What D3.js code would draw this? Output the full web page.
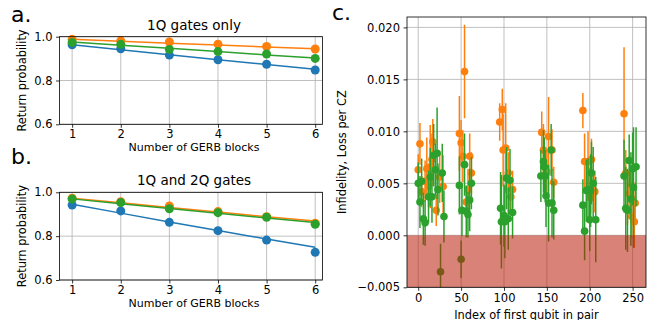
<!DOCTYPE html>
<html>
<head>
<meta charset="utf-8">
<script src="https://cdn.jsdelivr.net/npm/d3@7"></script>
<style>
  body { margin: 0; background: #fff; }
  svg { display: block; }
  text { font-family: "DejaVu Sans", sans-serif; fill: #000; }
  .tick text { font-size: 11.5px; }
  .tick line { stroke: #000; stroke-width: 0.8; }
</style>
</head>
<body>
<svg id="fig" width="654" height="320"></svg>
<script>
// GERB block counts (panels a and b)
const blocks = [1, 2, 3, 4, 5, 6];

// Panel a: 1Q gates only — measured return probabilities and fitted decay
const aBlue   = [0.963, 0.945, 0.916, 0.895, 0.874, 0.848];
const aOrange = [0.988, 0.981, 0.976, 0.966, 0.955, 0.944];
const aGreen  = [0.974, 0.965, 0.942, 0.932, 0.921, 0.901];
const aBlueFit   = [0.963, 0.940, 0.918, 0.895, 0.873, 0.851];
const aOrangeFit = [0.988, 0.979, 0.970, 0.962, 0.953, 0.945];
const aGreenFit  = [0.976, 0.961, 0.947, 0.932, 0.917, 0.903];

// Panel b: 1Q and 2Q gates
const bBlue   = [0.942, 0.915, 0.863, 0.825, 0.782, 0.726];
const bOrange = [0.973, 0.957, 0.938, 0.912, 0.889, 0.859];
const bGreen  = [0.970, 0.953, 0.925, 0.907, 0.886, 0.854];
const bBlueFit   = [0.945, 0.905, 0.865, 0.826, 0.787, 0.749];
const bOrangeFit = [0.973, 0.952, 0.931, 0.910, 0.889, 0.869];
const bGreenFit  = [0.970, 0.948, 0.926, 0.904, 0.883, 0.862];

const probTicks = [0.6, 0.8, 1.0];

// Panel c: per-pair infidelity (orange) and loss (green) per CZ, with uncertainties
const cOrangeX   = [0, 2, 4, 8, 10, 12, 14, 16, 17, 21, 25, 29,
                    48, 50, 52, 54, 56, 58, 60, 62,
                    95, 98, 99, 102, 105, 108, 110,
                    144, 146, 148, 150, 152, 156, 158,
                    192, 194, 198, 200, 201, 202, 206,
                    240, 242, 244, 246, 248, 249, 252, 253];
const cOrangeY   = [0.0063, 0.0088, 0.0042, 0.0052, 0.0064, 0.0047, 0.0066, 0.0073, 0.0090, 0.0024, 0.0056, 0.0047,
                    0.0098, 0.0089, 0.0076, 0.01575, 0.0032, 0.0044, 0.0076, 0.0060,
                    0.0109, 0.0121, 0.0082, 0.0084, 0.0060, 0.0037, 0.0044,
                    0.0099, 0.0082, 0.0058, 0.0061, 0.0095, 0.0082, 0.0051,
                    0.0120, 0.0071, 0.0071, 0.0040, 0.0036, 0.0073, 0.0042,
                    0.0117, 0.0060, 0.0025, 0.0040, 0.0047, 0.0018, 0.0013, 0.0031];
const cOrangeErr = [0.0015, 0.0020, 0.0015, 0.0020, 0.0030, 0.0020, 0.0040, 0.0025, 0.0022, 0.0015, 0.0025, 0.0030,
                    0.0036, 0.0022, 0.0025, 0.0045, 0.0015, 0.0020, 0.0022, 0.0020,
                    0.0018, 0.0020, 0.0035, 0.0043, 0.0020, 0.0015, 0.0018,
                    0.0020, 0.0025, 0.0020, 0.0020, 0.0038, 0.0020, 0.0015,
                    0.0017, 0.0027, 0.0029, 0.0025, 0.0015, 0.0020, 0.0020,
                    0.0064, 0.0022, 0.0015, 0.0020, 0.0020, 0.0020, 0.0025, 0.0020];

const cGreenX   = [0, 2, 4, 6, 8, 12, 14, 16, 18, 20, 22, 23, 26, 28, 30,
                   48, 50, 51, 54, 56, 58, 60, 62,
                   96, 97, 100, 101, 103, 105, 107, 110,
                   143, 146, 147, 148, 149, 152, 155, 156, 158,
                   192, 194, 196, 198, 200, 201, 202, 204, 207,
                   240, 242, 244, 246, 248, 250, 251, 254];
const cGreenY   = [0.0050, 0.0032, 0.0052, 0.0016, 0.0012, 0.0037, 0.0056, 0.0037, 0.0077, 0.0063, 0.0079, 0.0044, -0.0035, 0.0060, 0.0018,
                   0.0048, -0.0023, 0.0024, 0.0068, 0.0023, 0.0020, 0.0034, 0.0050,
                   0.0026, 0.0013, 0.0019, 0.0013, 0.0055, 0.0016, 0.0053, 0.0022,
                   0.0057, 0.0071, 0.0066, 0.0057, 0.0038, 0.0031, 0.0082, 0.0031, 0.0024,
                   0.0029, 0.0004, 0.0043, 0.0044, 0.0015, 0.0043, 0.0060, 0.0050, 0.0015,
                   0.0057, 0.0026, 0.0024, 0.0072, 0.0035, 0.0064, 0.0046, 0.0066];
const cGreenErr = [0.0020, 0.0025, 0.0022, 0.0025, 0.0022, 0.0025, 0.0028, 0.0025, 0.0030, 0.0025, 0.0044, 0.0025, 0.0027, 0.0028, 0.0025,
                   0.0028, 0.0018, 0.0025, 0.0030, 0.0025, 0.0022, 0.0030, 0.0025,
                   0.0035, 0.0045, 0.0030, 0.0035, 0.0030, 0.0030, 0.0030, 0.0025,
                   0.0025, 0.0030, 0.0028, 0.0025, 0.0030, 0.0037, 0.0025, 0.0033, 0.0028,
                   0.0025, 0.0028, 0.0030, 0.0030, 0.0030, 0.0035, 0.0030, 0.0035, 0.0041,
                   0.0035, 0.0040, 0.0040, 0.0025, 0.0045, 0.0035, 0.0058, 0.0038];

const cXTicks = [0, 50, 100, 150, 200, 250];
const cYTicks = [-0.005, 0.000, 0.005, 0.010, 0.015, 0.020];

const C0 = "#1f77b4", C1 = "#ff7f0e", C2 = "#2ca02c";
const GRID = "#b0b0b0";

const svg = d3.select("#fig");

// ---------- panels a and b ----------
function probPanel(box, title, label, series) {
  const x = d3.scaleLinear().domain([0.74, 6.15]).range([box.l, box.r]);
  const y = d3.scaleLinear().domain([0.6, 1.0]).range([box.b, box.t]);
  const g = svg.append("g");

  // grid
  g.selectAll(".vg").data(blocks).join("line")
    .attr("x1", d => x(d)).attr("x2", d => x(d))
    .attr("y1", box.t).attr("y2", box.b)
    .attr("stroke", GRID).attr("stroke-width", 0.8);
  g.selectAll(".hg").data(probTicks).join("line")
    .attr("x1", box.l).attr("x2", box.r)
    .attr("y1", d => y(d)).attr("y2", d => y(d))
    .attr("stroke", GRID).attr("stroke-width", 0.8);

  // fits and measured points
  series.forEach(s => {
    const line = d3.line().x((d, i) => x(blocks[i])).y(d => y(d));
    g.append("path").datum(s.fit).attr("d", line)
      .attr("fill", "none").attr("stroke", s.color).attr("stroke-width", 1.5);
    g.selectAll(null).data(s.vals).join("circle")
      .attr("cx", (d, i) => x(blocks[i])).attr("cy", d => y(d))
      .attr("r", 4.5).attr("fill", s.color);
  });

  // frame
  g.append("rect").attr("x", box.l).attr("y", box.t)
    .attr("width", box.r - box.l).attr("height", box.b - box.t)
    .attr("fill", "none").attr("stroke", "#000").attr("stroke-width", 0.8);

  const xa = g.append("g").attr("transform", `translate(0,${box.b})`)
    .call(d3.axisBottom(x).tickValues(blocks).tickFormat(d3.format("d"))
      .tickSize(3.5).tickPadding(2.5).tickSizeOuter(0));
  xa.select(".domain").remove();
  xa.selectAll(".tick text").attr("font-size", 11);
  const ya = g.append("g").attr("transform", `translate(${box.l},0)`)
    .call(d3.axisLeft(y).tickValues(probTicks).tickFormat(d3.format(".1f"))
      .tickSize(3.5).tickPadding(3.5).tickSizeOuter(0));
  ya.select(".domain").remove();
  g.selectAll(".tick text").attr("font-family", "DejaVu Sans");

  const cx = (box.l + box.r) / 2;
  g.append("text").attr("x", cx + 3).attr("y", box.t - 7)
    .attr("text-anchor", "middle").attr("font-size", 13.5).text(title);
  g.append("text").attr("x", cx + 3).attr("y", box.b + 26.6)
    .attr("text-anchor", "middle").attr("font-size", 11).text("Number of GERB blocks");
  g.append("text")
    .attr("transform", `translate(${box.l - 34},${(box.t + box.b) / 2}) rotate(-90)`)
    .attr("text-anchor", "middle").attr("font-size", 11.4).text("Return probability");
  g.append("text").attr("x", 11).attr("y", box.t + label.dy)
    .attr("font-family", "Liberation Sans, Arial, sans-serif").attr("font-size", 22)
    .text(label.t);
}

probPanel({ l: 59.5, r: 322.5, t: 36.7, b: 124.3 }, "1Q gates only", { t: "a.", dy: -15 }, [
  { vals: aBlue, fit: aBlueFit, color: C0 },
  { vals: aOrange, fit: aOrangeFit, color: C1 },
  { vals: aGreen, fit: aGreenFit, color: C2 }
]);
probPanel({ l: 59.5, r: 322.5, t: 192.3, b: 280 }, "1Q and 2Q gates", { t: "b.", dy: -28 }, [
  { vals: bBlue, fit: bBlueFit, color: C0 },
  { vals: bOrange, fit: bOrangeFit, color: C1 },
  { vals: bGreen, fit: bGreenFit, color: C2 }
]);

// ---------- panel c ----------
(function () {
  const box = { l: 407, r: 646, t: 17, b: 287.3 };
  const x = d3.scaleLinear().domain([-13.1, 265.6]).range([box.l, box.r]);
  const y = d3.scaleLinear().domain([-0.005, 0.021]).range([box.b, box.t]);
  const g = svg.append("g");

  svg.append("defs").append("clipPath").attr("id", "clipC")
    .append("rect").attr("x", box.l).attr("y", box.t)
    .attr("width", box.r - box.l).attr("height", box.b - box.t);

  g.selectAll(".vg").data(cXTicks).join("line")
    .attr("x1", d => x(d)).attr("x2", d => x(d))
    .attr("y1", box.t).attr("y2", box.b)
    .attr("stroke", GRID).attr("stroke-width", 0.8);
  g.selectAll(".hg").data(cYTicks).join("line")
    .attr("x1", box.l).attr("x2", box.r)
    .attr("y1", d => y(d)).attr("y2", d => y(d))
    .attr("stroke", GRID).attr("stroke-width", 0.8);

  const plot = g.append("g").attr("clip-path", "url(#clipC)");
  function errSeries(xs, ys, es, color) {
    const pts = xs.map((d, i) => ({ x: d, y: ys[i], e: es[i] }));
    plot.append("g").selectAll("line").data(pts).join("line")
      .attr("x1", d => x(d.x)).attr("x2", d => x(d.x))
      .attr("y1", d => y(d.y - d.e)).attr("y2", d => y(d.y + d.e))
      .attr("stroke", color).attr("stroke-width", 1.5);
    plot.append("g").selectAll("circle").data(pts).join("circle")
      .attr("cx", d => x(d.x)).attr("cy", d => y(d.y))
      .attr("r", 3.8).attr("fill", color);
  }
  errSeries(cOrangeX, cOrangeY, cOrangeErr, C1);
  errSeries(cGreenX, cGreenY, cGreenErr, C2);

  // shaded unphysical (negative) region
  plot.append("rect").attr("x", box.l).attr("y", y(0))
    .attr("width", box.r - box.l).attr("height", box.b - y(0))
    .attr("fill", "rgb(185,30,10)").attr("fill-opacity", 0.55);

  g.append("rect").attr("x", box.l).attr("y", box.t)
    .attr("width", box.r - box.l).attr("height", box.b - box.t)
    .attr("fill", "none").attr("stroke", "#000").attr("stroke-width", 0.8);

  const xa = g.append("g").attr("transform", `translate(0,${box.b})`)
    .call(d3.axisBottom(x).tickValues(cXTicks).tickFormat(d3.format("d"))
      .tickSize(3.5).tickPadding(3).tickSizeOuter(0));
  xa.select(".domain").remove();
  const ya = g.append("g").attr("transform", `translate(${box.l},0)`)
    .call(d3.axisLeft(y).tickValues(cYTicks).tickFormat(d3.format(".3f"))
      .tickSize(3.5).tickPadding(3.5).tickSizeOuter(0));
  ya.select(".domain").remove();
  g.selectAll(".tick text").attr("font-family", "DejaVu Sans");

  g.append("text").attr("x", (box.l + box.r) / 2).attr("y", 318.5)
    .attr("text-anchor", "middle").attr("font-size", 11.4).text("Index of first qubit in pair");
  g.append("text")
    .attr("transform", `translate(${box.l - 61},${(box.t + box.b) / 2}) rotate(-90)`)
    .attr("text-anchor", "middle").attr("font-size", 11.4).text("Infidelity, Loss per CZ");
  g.append("text").attr("x", 332).attr("y", 20)
    .attr("font-family", "Liberation Sans, Arial, sans-serif").attr("font-size", 22)
    .text("c.");
})();
</script>
</body>
</html>
